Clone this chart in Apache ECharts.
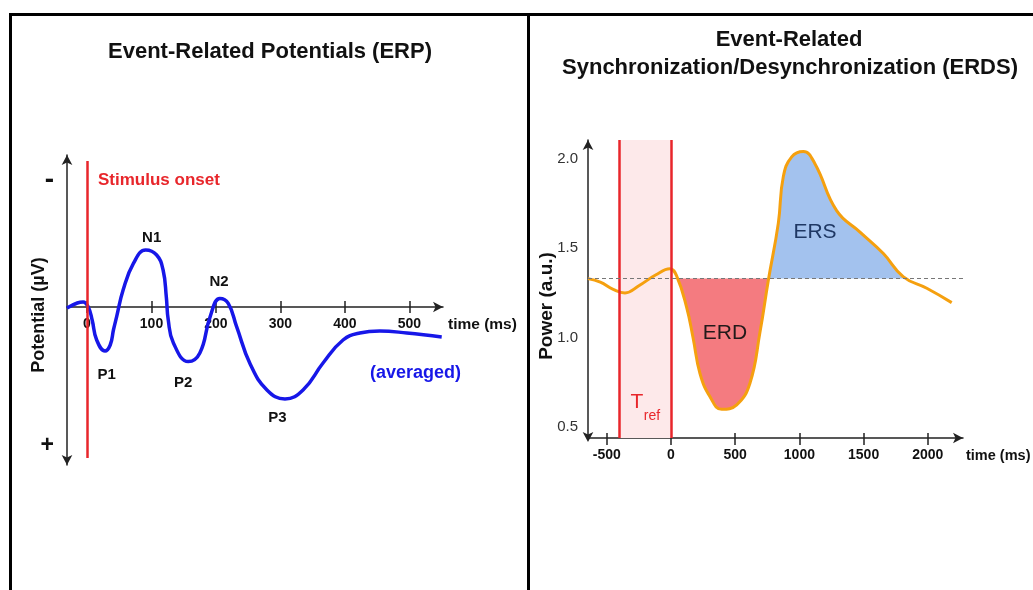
<!DOCTYPE html>
<html><head><meta charset="utf-8">
<script src="https://cdn.jsdelivr.net/npm/echarts@6/dist/echarts.min.js"></script>
<style>html,body{margin:0;padding:0;background:#fff}#c{width:1033px;height:590px}</style>
</head><body><div id="c"></div>
<script>
// ---------- Left panel: ERP ----------
const erpTime  = [-31,-15,-6,2,8,15,28,36,41,46,56,72,91,108,118,123,126,134,157,175,191,206,219,232,253,279,307,335,366,397,423,454,496,550];
const erpValue = [0.05,-0.2,-0.25,0,0.65,1.65,2.2,1.9,1.15,0.48,-0.85,-2.18,-2.85,-2.6,-1.85,-0.5,0.65,1.8,2.73,2.3,0.48,-0.43,-0.18,0.98,2.85,4.15,4.6,4.15,2.8,1.65,1.3,1.2,1.3,1.5];
const erpTicks = [0,100,200,300,400,500];
const erpRange = {xMin:-31, xMax:552, yMin:-7.6, yMax:7.9};
const erpSignLabels = [-6.35, 6.95];           // '-' at top, '+' at bottom
const stimulusOnset = 0;
const peakLabels = [['N1',100.3,-3.45],['N2',204.7,-1.27],['P1',30.5,3.4],['P2',149.3,3.8],['P3',295.3,5.55]];

// ---------- Right panel: ERDS ----------
const erdsTime  = [-646,-550,-450,-358,-250,-120,-8,44,122,172,226,304,395,512,615,693,758,836,875,940,1031,1122,1290,1472,1654,1810,1992,2186];
const erdsValue = [1.33,1.31,1.27,1.25,1.29,1.35,1.385,1.345,1.17,1.0,0.80,0.67,0.60,0.625,0.746,1.03,1.32,1.64,1.90,2.01,2.04,1.97,1.71,1.59,1.47,1.34,1.276,1.196];
const erdsTicks = [-500,0,500,1000,1500,2000];
const erdsYLabels = [0.5,1.0,1.5,2.0];
const erdsRange = {xMin:-646, xMax:2274, yMin:0.44, yMax:2.104};
const baseline = 1.33;
const refWindow = [-400, 0];
const erdRange = [55, 760];
const ersRange = [760, 1815];

const FONT = '"Liberation Sans", Arial, Helvetica, sans-serif';
const AX = '#222';
const RED = '#e8262b';

const erpData = erpTime.map((t,i)=>[t, erpValue[i]]);
const erdsData = erdsTime.map((t,i)=>[t, erdsValue[i]]);

const G0 = {left:67, top:155, width:376, height:310};
const G1 = {left:588, top:140, width:375, height:298};
// distance of the ERP zero line above the grid bottom (inverse axis: max at bottom)
const zeroFromBottom = (erpRange.yMax - 0) / (erpRange.yMax - erpRange.yMin) * G0.height;

const chart = echarts.init(document.getElementById('c'));
const boldLabel = {fontWeight:'bold', fontSize:14, color:'#111', fontFamily:FONT};

chart.setOption({
  animation:false,
  textStyle:{fontFamily:FONT},
  grid:[G0, G1],
  xAxis:[
    {gridIndex:0, type:'value', min:erpRange.xMin, max:erpRange.xMax, position:'bottom', offset:-zeroFromBottom,
     axisLine:{onZero:false, symbol:['none','arrow'], symbolSize:[8,10], lineStyle:{color:AX, width:1.5}},
     axisTick:{inside:true, length:6, customValues:erpTicks, lineStyle:{color:AX, width:1.5}},
     axisLabel:Object.assign({customValues:erpTicks, margin:10, formatter:v=>String(v)}, boldLabel),
     splitLine:{show:false}},
    {gridIndex:0, type:'value', min:erpRange.xMin, max:erpRange.xMax, position:'bottom', offset:-zeroFromBottom,
     axisLine:{show:false, onZero:false},
     axisTick:{inside:false, length:6, customValues:erpTicks, lineStyle:{color:AX, width:1.5}},
     axisLabel:{show:false}, splitLine:{show:false}},
    {gridIndex:1, type:'value', min:erdsRange.xMin, max:erdsRange.xMax, position:'bottom',
     axisLine:{onZero:false, symbol:['none','arrow'], symbolSize:[8,10], lineStyle:{color:AX, width:1.5}},
     axisTick:{inside:true, length:5, customValues:erdsTicks, lineStyle:{color:AX, width:1.5}},
     axisLabel:Object.assign({customValues:erdsTicks, margin:10, formatter:v=>String(v)}, boldLabel),
     splitLine:{show:false}},
    {gridIndex:1, type:'value', min:erdsRange.xMin, max:erdsRange.xMax, position:'bottom',
     axisLine:{show:false, onZero:false},
     axisTick:{inside:false, length:7, customValues:erdsTicks, lineStyle:{color:AX, width:1.5}},
     axisLabel:{show:false}, splitLine:{show:false}}
  ],
  yAxis:[
    {gridIndex:0, type:'value', inverse:true, min:erpRange.yMin, max:erpRange.yMax,
     name:'Potential (µV)', nameLocation:'middle', nameGap:19, nameRotate:90, nameMoveOverlap:false,
     nameTextStyle:{fontWeight:'bold', fontSize:18, color:'#111', fontFamily:FONT, padding:[0,10,0,0]},
     axisLine:{onZero:false, symbol:['arrow','arrow'], symbolSize:[8,10], lineStyle:{color:AX, width:1.5}},
     axisTick:{show:false},
     axisLabel:{customValues:erpSignLabels, margin:13,
       formatter:v=> v<0 ? '{m|-}' : '{p|+}',
       rich:{m:{fontSize:28, fontWeight:'bold', color:'#111', fontFamily:FONT},
             p:{fontSize:23, fontWeight:'bold', color:'#111', fontFamily:FONT}}},
     splitLine:{show:false}},
    {gridIndex:1, type:'value', min:erdsRange.yMin, max:erdsRange.yMax,
     name:'Power (a.u.)', nameLocation:'middle', nameGap:32, nameRotate:90, nameMoveOverlap:false,
     nameTextStyle:{fontWeight:'bold', fontSize:19, color:'#111', fontFamily:FONT, padding:[0,34,0,0]},
     axisLine:{onZero:false, symbol:['arrow','arrow'], symbolSize:[8,10], symbolOffset:[-4,0], lineStyle:{color:AX, width:1.5}},
     axisTick:{show:false},
     axisLabel:{customValues:erdsYLabels, margin:10, fontSize:15, color:'#333', formatter:v=>v.toFixed(1)},
     splitLine:{show:false}}
  ],
  visualMap:[{
    type:'piecewise', show:false, seriesIndex:2, dimension:0,
    pieces:[
      {lt:erdRange[0], color:'rgba(255,255,255,0)'},
      {gte:erdRange[0], lt:erdRange[1], color:'#f47b80'},
      {gte:ersRange[0], lt:ersRange[1], color:'#a3c2ee'},
      {gte:ersRange[1], color:'rgba(255,255,255,0)'}
    ]
  }],
  series:[
    {name:'ERP', type:'line', xAxisIndex:0, yAxisIndex:0, data:erpData, smooth:0.45, symbol:'none',
     lineStyle:{color:'#1717e8', width:3.5}, z:3,
     markLine:{silent:true, symbol:'none', label:{show:false},
       lineStyle:{color:RED, width:2.5, type:'solid'},
       data:[[{coord:[stimulusOnset, -7.3]},{coord:[stimulusOnset, 7.55]}]]}},
    {name:'peaks', type:'scatter', xAxisIndex:0, yAxisIndex:0, symbolSize:0, silent:true, z:5,
     itemStyle:{opacity:1},
     data:peakLabels.map(p=>({name:p[0], value:[p[1],p[2]]})),
     label:{show:true, position:'inside', formatter:'{b}', fontWeight:'bold', fontSize:15, color:'#111', fontFamily:FONT, opacity:1}},
    {name:'ERDS fill', type:'line', xAxisIndex:2, yAxisIndex:1, data:erdsData, smooth:0.45, symbol:'none',
     lineStyle:{width:0, opacity:0}, areaStyle:{origin:baseline, opacity:1}, z:2,
     markArea:{silent:true, itemStyle:{color:'#fde9ea'}, data:[[{xAxis:refWindow[0]},{xAxis:refWindow[1]}]]},
     markLine:{silent:true, symbol:'none', label:{show:false},
       data:[
         {xAxis:refWindow[0], lineStyle:{color:RED, width:2.5, type:'solid'}},
         {xAxis:refWindow[1], lineStyle:{color:RED, width:2.5, type:'solid'}},
         {yAxis:baseline, lineStyle:{color:'#777', width:1.2, type:[4,3]}}
       ]}},
    {name:'ERDS', type:'line', xAxisIndex:2, yAxisIndex:1, data:erdsData, smooth:0.45, symbol:'none',
     lineStyle:{color:'#f5a00f', width:3}, z:4}
  ],
  graphic:[
    {type:'line', shape:{x1:9, y1:14.5, x2:1033, y2:14.5}, style:{stroke:'#000', lineWidth:3}, z:10},
    {type:'line', shape:{x1:10.5, y1:13, x2:10.5, y2:590}, style:{stroke:'#000', lineWidth:3}, z:10},
    {type:'line', shape:{x1:528.5, y1:13, x2:528.5, y2:590}, style:{stroke:'#000', lineWidth:3}, z:10},
    {type:'text', style:{x:270, y:52, text:'Event-Related Potentials (ERP)', align:'center', verticalAlign:'middle', font:'bold 22px '+FONT, fill:'#111'}},
    {type:'text', style:{x:789, y:40, text:'Event-Related', align:'center', verticalAlign:'middle', font:'bold 22px '+FONT, fill:'#111'}},
    {type:'text', style:{x:790, y:68, text:'Synchronization/Desynchronization (ERDS)', align:'center', verticalAlign:'middle', font:'bold 22px '+FONT, fill:'#111'}},
    {type:'text', style:{x:98, y:180, text:'Stimulus onset', align:'left', verticalAlign:'middle', font:'bold 17px '+FONT, fill:RED}},
    {type:'text', style:{x:448, y:325, text:'time (ms)', align:'left', verticalAlign:'middle', font:'bold 15.5px '+FONT, fill:'#111'}},
    {type:'text', style:{x:370, y:373, text:'(averaged)', align:'left', verticalAlign:'middle', font:'bold 18px '+FONT, fill:'#1717e8'}},
    {type:'text', style:{x:966, y:456, text:'time (ms)', align:'left', verticalAlign:'middle', font:'bold 14.5px '+FONT, fill:'#111'}, z:10},
    {type:'text', style:{x:725, y:333, text:'ERD', align:'center', verticalAlign:'middle', font:'21px '+FONT, fill:'#221a1a'}, z:10},
    {type:'text', style:{x:815, y:232, text:'ERS', align:'center', verticalAlign:'middle', font:'21px '+FONT, fill:'#1f3864'}, z:10},
    {type:'text', style:{x:637, y:402, text:'T', align:'center', verticalAlign:'middle', font:'21px '+FONT, fill:RED}, z:10},
    {type:'text', style:{x:652, y:416, text:'ref', align:'center', verticalAlign:'middle', font:'14px '+FONT, fill:RED}, z:10}
  ]
});
</script>
</body></html>
